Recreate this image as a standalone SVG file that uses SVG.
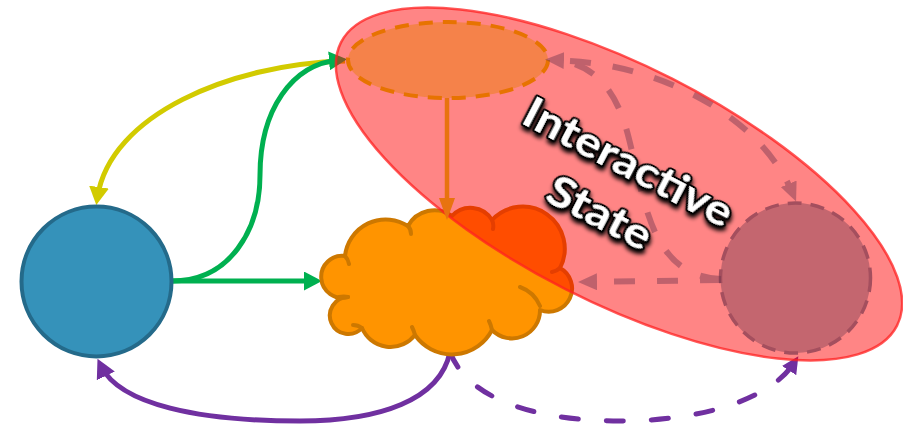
<svg xmlns="http://www.w3.org/2000/svg" width="903" height="427" viewBox="0 0 903 427">
  <style>
    .wire { fill: none; stroke-width: 5; }
    .yellow { stroke: #d2cb00; }
    .green { stroke: #00b050; }
    .purple { stroke: #7030a0; }
    .dash-purple { stroke-dasharray: 17 28; stroke-linecap: round; }
    .inner { fill: none; stroke: #69324c; stroke-width: 6; stroke-dasharray: 21 22; }
    .label { font-family: "Lato", "Liberation Sans", sans-serif; font-weight: bold; font-size: 42px; fill: #ffffff; stroke: #000000; stroke-width: 4; stroke-linejoin: round; paint-order: stroke; text-anchor: middle; }
  </style>
  <defs>
    <marker id="ah-yellow" markerUnits="userSpaceOnUse" viewBox="0 0 18 20" markerWidth="18" markerHeight="20" refX="10" refY="10" orient="auto">
      <path d="M0,0 L18,10 L0,20 Z" fill="#d2cb00"/>
    </marker>
    <marker id="ah-green" markerUnits="userSpaceOnUse" viewBox="0 0 18 19" markerWidth="18" markerHeight="19" refX="10" refY="9.5" orient="auto">
      <path d="M0,0 L18,9.5 L0,19 Z" fill="#00b050"/>
    </marker>
    <marker id="ah-purple" markerUnits="userSpaceOnUse" viewBox="0 0 19 20" markerWidth="19" markerHeight="20" refX="11" refY="10" orient="auto">
      <path d="M0,0 L19,10 L0,20 Z" fill="#7030a0"/>
    </marker>
    <marker id="ah-purple-small" markerUnits="userSpaceOnUse" viewBox="0 0 17 17" markerWidth="17" markerHeight="17" refX="9" refY="8.5" orient="auto">
      <path d="M0,0 L17,8.5 L0,17 Z" fill="#7030a0"/>
    </marker>
    <marker id="ah-orange" markerUnits="userSpaceOnUse" viewBox="0 0 22 16" markerWidth="22" markerHeight="16" refX="14" refY="8" orient="auto">
      <path d="M0,0 L22,8 L0,16 Z" fill="#e8730f"/>
    </marker>
    <marker id="ah-inner" markerUnits="userSpaceOnUse" viewBox="0 0 19 17" markerWidth="19" markerHeight="17" refX="11" refY="8.5" orient="auto">
      <path d="M0,0 L19,8.5 L0,17 Z" fill="#69324c"/>
    </marker>
    <filter id="label-shadow" x="-20%" y="-50%" width="140%" height="200%">
      <feGaussianBlur in="SourceAlpha" stdDeviation="2.2"/>
      <feOffset dx="2" dy="3" result="blur"/>
      <feMerge>
        <feMergeNode in="blur"/>
        <feMergeNode in="SourceGraphic"/>
      </feMerge>
    </filter>
  </defs>

  <!-- connectors between the outer nodes -->
  <g id="connectors">
    <path class="wire yellow" d="M 345 61 C 230 64, 110 115, 97.5 197" marker-end="url(#ah-yellow)"/>
    <path class="wire green" d="M 172 281 C 230 281, 260 230, 260 175 C 260 110, 292 64, 339 60" marker-end="url(#ah-green)"/>
    <path class="wire green" d="M 172 281 L 314 281" marker-end="url(#ah-green)"/>
    <path class="wire purple" d="M 450 352 C 440 400, 380 421, 300 421 C 200 421, 120 405, 101 366" marker-end="url(#ah-purple)"/>
    <path class="wire purple dash-purple" d="M 450 352 C 470 405, 550 421, 620 421 C 700 421, 770 400, 794 363" marker-end="url(#ah-purple-small)"/>
  </g>

  <!-- source node -->
  <g id="node-source">
    <circle cx="96.5" cy="281.5" r="75" fill="#3592ba" stroke="#246a8a" stroke-width="4"/>
  </g>

  <!-- cloud node -->
  <g id="node-cloud">
    <path d="M 345 256 A 41 41 0 0 1 408 226 A 30 30 0 0 1 452 216 A 25 25 0 0 1 492 220 A 42 42 0 0 1 560 268 A 23.3 23.3 0 0 1 540 310 A 28 28 0 0 1 492 330 A 45 45 0 0 1 415 335 A 31 31 0 0 1 362 328 A 18.5 18.5 0 1 1 348 297 A 21 21 0 1 1 345 256 Z" fill="#ff9400" stroke="#cd7800" stroke-width="4" stroke-linejoin="round"/>
    <path d="M 345 256 Q 348 259 349 264 M 408 226 Q 411 229 411 234 M 492 220 Q 494 224 493 229 M 560 268 Q 557 271 552 272 M 520 287 Q 534 292 540 306 M 492 330 Q 491 325 489 321 M 415 335 Q 414 331 412 327 M 362 328 Q 358 325 353 325 M 348 297 Q 344 296 339 297" fill="none" stroke="#cd7800" stroke-width="4" stroke-linecap="round"/>
  </g>

  <!-- interactive state region -->
  <g id="region-interactive">
    <ellipse cx="619" cy="184" rx="312" ry="118" transform="rotate(27 619 184)" fill="#ff0000" fill-opacity="0.48" stroke="#ff2020" stroke-opacity="0.75" stroke-width="2.5"/>
  </g>

  <!-- node inside the region, top -->
  <g id="node-top">
    <ellipse cx="448" cy="60" rx="100" ry="38" fill="#f5824a" stroke="#e77300" stroke-width="4" stroke-dasharray="14 10"/>
  </g>

  <!-- node inside the region, right -->
  <g id="node-right">
    <circle cx="795.5" cy="278" r="75" fill="#c4666f" stroke="#a44f5e" stroke-width="3.5" stroke-dasharray="14 9"/>
  </g>

  <!-- connectors inside the region -->
  <g id="inner-connectors">
    <path d="M 447 98 L 447 212" fill="none" stroke="#e8730f" stroke-width="4.5" marker-end="url(#ah-orange)"/>
    <g opacity="0.42">
      <path class="inner" d="M 570 61 C 660 66, 760 115, 793 194" marker-end="url(#ah-inner)"/>
      <path class="inner" d="M 721 279 C 650 276, 645 200, 628 135 C 617 92, 595 62, 553 60" marker-end="url(#ah-inner)"/>
      <path class="inner" d="M 721 280 L 586 282" marker-end="url(#ah-inner)"/>
    </g>
  </g>

  <!-- region label -->
  <g id="label" transform="translate(628 163) rotate(27.5)" filter="url(#label-shadow)">
    <text class="label" x="0" y="14" textLength="230" lengthAdjust="spacingAndGlyphs">Interactive</text>
    <text class="label" x="-2" y="72" textLength="112" lengthAdjust="spacingAndGlyphs">State</text>
  </g>
</svg>
